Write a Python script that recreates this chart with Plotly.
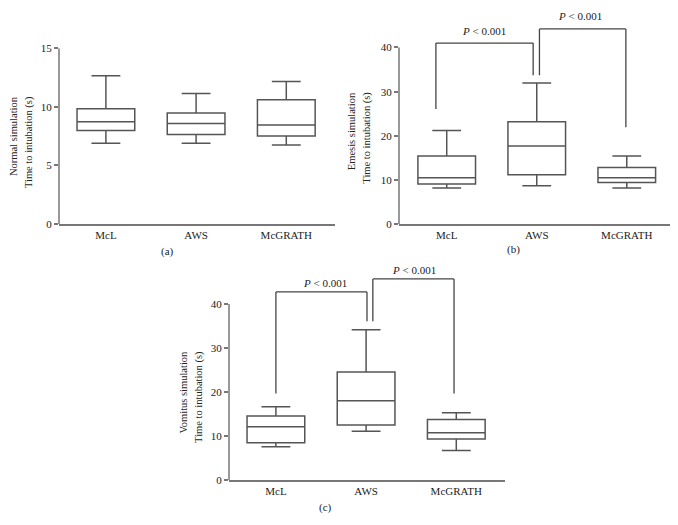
import plotly.graph_objects as go

categories = ["McL", "AWS", "McGRATH"]

# Panel (a) Normal simulation
a_min = [6.89, 6.89, 6.73]
a_q1 = [7.97, 7.64, 7.50]
a_med = [8.72, 8.58, 8.44]
a_q3 = [9.83, 9.47, 10.60]
a_max = [12.65, 11.13, 12.15]

# Panel (b) Emesis simulation
b_min = [8.18, 8.69, 8.18]
b_q1 = [9.13, 11.20, 9.43]
b_med = [10.53, 17.68, 10.53]
b_q3 = [15.47, 23.20, 12.82]
b_max = [21.20, 31.97, 15.47]

# Panel (c) Vomitus simulation
c_min = [7.54, 11.09, 6.73]
c_q1 = [8.50, 12.50, 9.32]
c_med = [12.13, 18.04, 10.72]
c_q3 = [14.57, 24.55, 13.75]
c_max = [16.64, 34.16, 15.30]

# significance brackets: (left x, left bottom y, top y, right x, right bottom y)
b_brackets = [(-0.12, 26.1, 41.0, 0.96, 33.7), (1.03, 33.7, 44.2, 1.99, 21.95)]
c_brackets = [(0.0, 19.67, 42.74, 1.01, 36.08), (1.075, 36.08, 45.7, 1.975, 19.67)]
b_ptext = [(0.41, 43.8), (1.48, 47.1)]
c_ptext = [(0.54, 44.66), (1.53, 47.77)]
p_label = "<i>P</i> &lt; 0.001"

# page body has an 8px margin: figure is sized so the page is 678x525
PAGE_W, PAGE_H, BODY_M = 678, 525, 8
W, H = PAGE_W - 2 * BODY_M, PAGE_H - 2 * BODY_M
FONT = "Liberation Serif"
BOX_COL = "#555555"
AX_COL = "#777777"
TXT = "#222222"

fig = go.Figure()

panels = [
    ("x", "y", a_min, a_q1, a_med, a_q3, a_max),
    ("x2", "y2", b_min, b_q1, b_med, b_q3, b_max),
    ("x3", "y3", c_min, c_q1, c_med, c_q3, c_max),
]
for xa, ya, mn, q1, md, q3, mx in panels:
    fig.add_trace(go.Box(
        x=categories, q1=q1, median=md, q3=q3, lowerfence=mn, upperfence=mx,
        xaxis=xa, yaxis=ya, width=0.64, whiskerwidth=0.5,
        line=dict(color=BOX_COL, width=1.5), fillcolor="rgba(255,255,255,0)",
        boxpoints=False, showlegend=False, hoverinfo="skip",
    ))

def clamp(v):
    return max(0.0, min(1.0, v))

def px_x(p):
    return (p - BODY_M) / W

def px_y(p):
    return 1 - (p - BODY_M) / H

# domains (page-pixel based)
dom = {
    "a": dict(x=[px_x(59), px_x(335)], y=[px_y(223), px_y(43)]),
    "b": dict(x=[px_x(399), px_x(670)], y=[px_y(223.3), px_y(9)]),
    "c": dict(x=[px_x(229), px_x(505)], y=[px_y(485.3), px_y(262)]),
}
for d in dom.values():
    d["x"] = [clamp(v) for v in d["x"]]
    d["y"] = [clamp(v) for v in d["y"]]
b_top = (223.3 - 9) / 4.525
c_top = (485.3 - 262) / 4.5075

xcommon = dict(type="category", showline=True, linecolor=AX_COL, linewidth=1.5,
               ticks="", showgrid=False, zeroline=False,
               tickfont=dict(family=FONT, size=11, color=TXT))
ycommon = dict(showline=False, ticks="outside", ticklen=4, tickcolor=AX_COL, tickwidth=1.5,
               showgrid=False, zeroline=False,
               tickfont=dict(family=FONT, size=11, color=TXT))

fig.update_layout(
    width=W, height=H, margin=dict(l=0, r=0, t=0, b=0),
    paper_bgcolor="white", plot_bgcolor="white",
    font=dict(family=FONT, size=11, color=TXT),
    xaxis=dict(domain=dom["a"]["x"], anchor="y", range=[-0.52, 2.54], **xcommon),
    yaxis=dict(domain=dom["a"]["y"], anchor="x", range=[0, 15], tickvals=[0, 5, 10, 15], **ycommon),
    xaxis2=dict(domain=dom["b"]["x"], anchor="y2", range=[-0.53, 2.48], **xcommon),
    yaxis2=dict(domain=dom["b"]["y"], anchor="x2", range=[0, b_top], tickvals=[0, 10, 20, 30, 40], **ycommon),
    xaxis3=dict(domain=dom["c"]["x"], anchor="y3", range=[-0.52, 2.54], **xcommon),
    yaxis3=dict(domain=dom["c"]["y"], anchor="x3", range=[0, c_top], tickvals=[0, 10, 20, 30, 40], **ycommon),
)

# y axis lines (stop at the top tick)
for xa, ya, top in [("x", "y", 15), ("x2", "y2", 40), ("x3", "y3", 40)]:
    fig.add_shape(type="line", xref=xa + " domain", yref=ya, x0=0, x1=0, y0=0, y1=top,
                  line=dict(color=AX_COL, width=1.5))

# brackets
for xa, ya, brs in [("x2", "y2", b_brackets), ("x3", "y3", c_brackets)]:
    for lx, ly, ty, rx, ry in brs:
        for x0, y0, x1, y1 in [(lx, ly, lx, ty), (lx, ty, rx, ty), (rx, ty, rx, ry)]:
            fig.add_shape(type="line", xref=xa, yref=ya, x0=x0, y0=y0, x1=x1, y1=y1,
                          line=dict(color="#444444", width=1.3))

for xa, ya, pts in [("x2", "y2", b_ptext), ("x3", "y3", c_ptext)]:
    for px, py in pts:
        fig.add_annotation(x=px, y=py, xref=xa, yref=ya, text=p_label, showarrow=False,
                           font=dict(family=FONT, size=11, color=TXT))

# y titles: each line separately, aligned at the top
titles = [
    ("Normal simulation", 13, 90), ("Time to intubation (s)", 29, 90),
    ("Emesis simulation", 351, 86), ("Time to intubation (s)", 367.5, 86),
    ("Vomitus simulation", 183, 351), ("Time to intubation (s)", 199, 351),
]
for t, xp, yp in titles:
    fig.add_annotation(x=px_x(xp), y=px_y(yp), xref="paper", yref="paper", text=t,
                       textangle=-90, showarrow=False, xanchor="center", yanchor="top",
                       font=dict(family=FONT, size=10.5, color=TXT))

# panel labels
for t, xp, yp in [("(a)", 167, 251), ("(b)", 513, 249), ("(c)", 325, 513)]:
    fig.add_annotation(x=px_x(xp), y=px_y(yp), xref="paper", yref="paper", text=t,
                       showarrow=False, xanchor="center", yanchor="middle",
                       font=dict(family=FONT, size=11, color=TXT))

fig.write_html("out.html")
